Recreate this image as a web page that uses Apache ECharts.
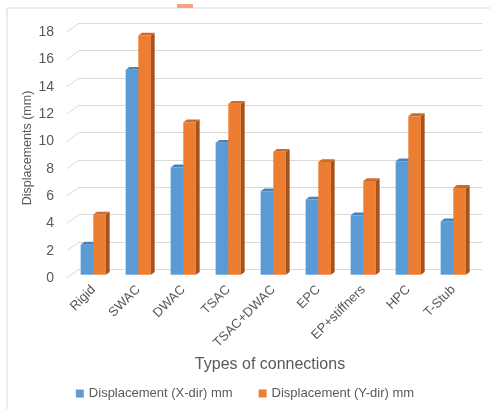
<!DOCTYPE html>
<html>
<head>
<meta charset="utf-8">
<script src="https://cdn.jsdelivr.net/npm/echarts@6/dist/echarts.min.js"></script>
<style>
html,body{margin:0;padding:0;background:#fff;}
#main{width:490px;height:409px;}
</style>
</head>
<body>
<div id="main"></div>
<script>
const categories = ['Rigid','SWAC','DWAC','TSAC','TSAC+DWAC','EPC','EP+stiffners','HPC','T-Stub'];
const xDir = [2.2, 15.0, 7.85, 9.65, 6.1, 5.5, 4.35, 8.3, 3.9];
const yDir = [4.4, 17.5, 11.15, 12.5, 9.0, 8.25, 6.85, 11.6, 6.35];
const yTicks = [0, 2, 4, 6, 8, 10, 12, 14, 16, 18];
const seriesNames = ['Displacement (X-dir) mm', 'Displacement (Y-dir) mm'];

const FONT = 'Liberation Sans';
const DX = 3.7, DY = 2.8;

function barRenderer(side, front, sideCol, topCol) {
  return function (params, api) {
    const i = api.value(0), v = api.value(1);
    const c = api.coord([i, v]);
    const b = api.coord([i, 0]);
    const band = api.size([1, 0])[0];
    const w = band * 0.281;
    const x0 = side === 0 ? c[0] - w : c[0];
    const x1 = x0 + w;
    const top = c[1], bot = b[1];
    return {
      type: 'group',
      children: [
        { type: 'polygon', shape: { points: [[x1, top], [x1 + DX, top - DY], [x1 + DX, bot - DY], [x1, bot]] }, style: { fill: sideCol } },
        { type: 'polygon', shape: { points: [[x0, top], [x0 + DX, top - DY], [x1 + DX, top - DY], [x1, top]] }, style: { fill: topCol } },
        { type: 'rect', shape: { x: x0, y: top, width: w, height: bot - top }, style: { fill: front } }
      ]
    };
  };
}

const chart = echarts.init(document.getElementById('main'));
chart.setOption({
  backgroundColor: '#fff',
  animation: false,
  textStyle: { fontFamily: FONT },
  legend: {
    data: seriesNames,
    bottom: 4,
    left: 'center',
    itemWidth: 8,
    itemHeight: 8,
    itemGap: 26,
    icon: 'rect',
    textStyle: { fontFamily: FONT, fontSize: 13, color: '#595959' }
  },
  grid: [
    { left: 70.8, top: 28.7, width: 405, height: 246 },
    { left: 79, top: 23.3, width: 403, height: 246 },
    { left: 67, top: 32, width: 10, height: 246 }
  ],
  xAxis: [
    {
      type: 'category', gridIndex: 0, data: categories,
      axisLine: { show: false }, axisTick: { show: false },
      axisLabel: { rotate: 45, margin: 13, interval: 0, color: '#595959', fontSize: 13, fontFamily: FONT }
    },
    { type: 'value', gridIndex: 1, show: false, min: 0, max: 1 },
    { type: 'value', gridIndex: 2, show: false, min: 0, max: 1 }
  ],
  yAxis: [
    { type: 'value', gridIndex: 0, min: 0, max: 18, interval: 2, show: false },
    {
      type: 'value', gridIndex: 1, min: 0, max: 18, interval: 2,
      axisLine: { show: false }, axisTick: { show: false }, axisLabel: { show: false },
      splitLine: { show: true, lineStyle: { color: '#D9D9D9', width: 1 } }
    },
    {
      type: 'value', gridIndex: 2, min: 0, max: 18, interval: 2,
      axisLine: { show: false }, axisTick: { show: false },
      axisLabel: { margin: 13, color: '#595959', fontSize: 14, fontFamily: FONT },
      splitLine: { show: false }
    }
  ],
  graphic: [
    { type: 'line', shape: { x1: 7, y1: 8, x2: 490, y2: 8 }, style: { stroke: '#D9D9D9', lineWidth: 1 } },
    { type: 'line', shape: { x1: 7, y1: 8, x2: 7, y2: 409 }, style: { stroke: '#D9D9D9', lineWidth: 1 } },
    { type: 'rect', shape: { x: 177, y: 4, width: 16, height: 4 }, style: { fill: '#F2A57A' } },
    { type: 'text', rotation: Math.PI / 2, x: 28, y: 148,
      style: { text: 'Displacements (mm)', fill: '#595959', fontSize: 12.5, fontFamily: FONT, align: 'center', verticalAlign: 'middle' } },
    { type: 'text', x: 270, y: 365,
      style: { text: 'Types of connections', fill: '#595959', fontSize: 16, fontFamily: FONT, align: 'center', verticalAlign: 'middle' } }
  ],
  series: [
    {
      type: 'custom', name: 'sidewall', xAxisIndex: 2, yAxisIndex: 2, silent: true,
      data: yTicks.map(t => [0, t]),
      renderItem: function (params, api) {
        const p = api.coord([0, api.value(1)]);
        return { type: 'line', shape: { x1: p[0], y1: p[1], x2: p[0] + 12, y2: p[1] - 8.7 }, style: { stroke: '#D9D9D9', lineWidth: 1 } };
      }
    },
    {
      type: 'custom', name: seriesNames[0], xAxisIndex: 0, yAxisIndex: 0,
      itemStyle: { color: '#5B9BD5' },
      data: xDir.map((v, i) => [i, v]),
      renderItem: barRenderer(0, '#5B9BD5', '#41719C', '#4A83BB')
    },
    {
      type: 'custom', name: seriesNames[1], xAxisIndex: 0, yAxisIndex: 0,
      itemStyle: { color: '#ED7D31' },
      data: yDir.map((v, i) => [i, v]),
      renderItem: barRenderer(1, '#ED7D31', '#A5531E', '#CC6A28')
    }
  ]
});
</script>
</body>
</html>
